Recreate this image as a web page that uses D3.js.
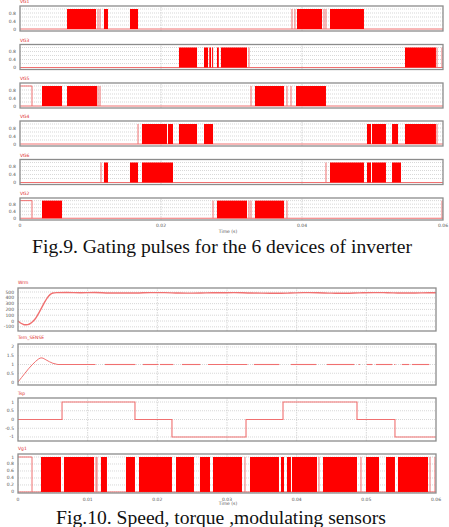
<!DOCTYPE html>
<html>
<head>
<meta charset="utf-8">
<script src="https://cdn.jsdelivr.net/npm/d3@7"></script>
<style>
  body { margin: 0; background: #fff; }
  svg { display: block; }
  .tick-label { font-family: "DejaVu Sans", sans-serif; font-size: 4.5px; fill: #555; }
  .panel-label { font-family: "DejaVu Sans", sans-serif; font-size: 4.5px; fill: #e03030; }
  .caption { font-family: "Liberation Serif", "Times New Roman", serif; font-size: 19.6px; fill: #111; }
</style>
</head>
<body>
<div id="chart"></div>
<script>
// ---------- data (time in ms) ----------
// Fig.9 gating pulses
const fig9Labels = ['VG1', 'VG3', 'VG5', 'VG4', 'VG6', 'VG2'];
const fig9XTicks = [0, 20, 40, 60];
const fig9XTickLabels = ['0', '0.02', '0.04', '0.06'];
const fig9YTicks = [0, 0.4, 0.8];
const fig9Grid = [0.2, 0.4, 0.6, 0.8, 1.0];

// dense switching blocks
const fig9Blocks = [
  [[6.67, 10.78], [11.91, 12.48], [15.60, 16.74], [39.29, 42.84], [43.97, 48.79]],
  [[22.55, 25.11], [26.10, 26.67], [26.85, 27.10], [27.25, 27.38], [27.94, 28.20], [28.50, 32.20], [54.61, 59.00]],
  [[3.12, 5.96], [6.67, 10.92], [33.33, 37.45], [39.15, 43.40]],
  [[17.30, 20.85], [20.99, 21.70], [22.55, 25.11], [26.10, 27.38], [49.22, 49.79], [49.93, 51.91], [52.77, 53.62], [54.61, 59.00]],
  [[11.91, 12.48], [15.60, 16.74], [17.30, 21.70], [43.97, 48.79], [49.22, 49.79], [49.93, 51.91], [52.77, 54.04]],
  [[3.12, 5.96], [27.94, 32.20], [33.33, 37.45]]
];
// single edges
const fig9Edges = [
  [11.06, 11.35, 38.58, 39.00, 43.12, 43.40],
  [32.48, 59.15, 59.86],
  [1.70, 11.06, 11.35, 32.77, 37.87, 38.44],
  [16.74, 59.15],
  [11.49, 43.40],
  [1.70, 27.38, 32.48, 32.77, 37.87, 59.86]
];
// steady high level (drawn as a line only)
const fig9High = [[], [], [[0, 1.70]], [], [], [[0, 1.70]]];

// Fig.10
const fig10Labels = ['Wrm', 'Tem_SENSE', 'Tsp', 'Vg1'];
const fig10XTicks = [0, 10, 20, 30, 40, 50, 60];
const fig10XTickLabels = ['0', '0.01', '0.02', '0.03', '0.04', '0.05', '0.06'];

const speedTime = [0, 0.3, 0.7, 1.0, 1.4, 1.8, 2.2, 2.6, 3.0, 3.4, 3.8, 4.2, 4.6, 5.0, 5.5,
  7, 9, 11, 13, 15, 17, 19, 21, 23, 25, 27, 29, 31, 33, 35, 37, 39, 41, 43, 45, 47, 49, 51, 53, 55, 57, 59, 60];
const speedValue = [0, -30, -55, -65, -62, -40, 0, 60, 140, 230, 320, 400, 455, 482, 490,
  492, 488, 491, 484, 482, 483, 490, 489, 482, 480, 485, 487, 490, 484, 480, 478, 482, 489, 487, 480, 478, 485, 490, 488, 482, 483, 488, 487];
const speedTicks = [-100, 0, 100, 200, 300, 400, 500];

const torqueRiseTime = [0, 0.5, 1.0, 1.5, 2.0, 2.5, 3.0, 3.3, 3.6, 4.0, 4.5, 5.0, 5.5, 5.74];
const torqueRiseValue = [0, 0.25, 0.5, 0.75, 0.97, 1.17, 1.33, 1.38, 1.36, 1.27, 1.16, 1.07, 1.02, 1.0];
const torqueLevel = 1.0;
const torqueSegments = [[5.74, 11.05], [12.48, 16.79], [17.93, 20.09], [20.37, 22.24], [23.53, 26.11],
  [27.26, 32.86], [33.86, 37.45], [39.17, 42.75], [44.33, 48.21], [48.9, 49.0], [50.07, 50.79],
  [51.36, 53.66], [54.0, 54.1], [55.09, 56.10], [56.53, 58.97]];
const torqueTicks = [0, 0.5, 1, 1.5, 2];

const modTime = [0, 6.32, 16.79, 22.10, 32.73, 38.04, 48.66, 54.11, 60];
const modValue = [0, 1, 0, -1, 0, 1, 0, -1, -1];
const modTicks = [-1, -0.5, 0, 0.5, 1];

const vgBlocks = [[3.30, 6.17], [6.60, 10.91], [11.91, 12.77], [15.50, 16.79], [17.37, 22.10], [22.68, 25.26],
  [26.12, 27.56], [27.99, 32.15], [33.30, 37.46], [37.75, 38.18], [38.61, 39.18], [39.33, 42.92],
  [43.78, 48.66], [49.95, 51.82], [52.82, 54.11], [54.54, 58.85]];
const vgEdges = [2.01, 11.20, 11.34, 32.58, 43.20, 49.23, 59.14, 59.85];
const vgHigh = [[0, 2.01]];
const vgTicks = [0, 0.2, 0.4, 0.6, 0.8, 1];

// ---------- layout ----------
const W = 449;
const H = 527;
const svg = d3.select('#chart').append('svg').attr('width', W).attr('height', H);

const frameColor = '#8c8c8c';
const gridColor = '#bdbdbd';
const red = '#ff0000';
const lineRed = '#f07070';

function frame(g, x, y) {
  g.append('rect')
    .attr('x', x.range()[0]).attr('y', y.range()[1])
    .attr('width', x.range()[1] - x.range()[0])
    .attr('height', y.range()[0] - y.range()[1])
    .attr('fill', 'none').attr('stroke', frameColor).attr('stroke-width', 1.3);
}

function hGrid(g, x, y, values) {
  g.selectAll(null).data(values).enter().append('line')
    .attr('x1', x.range()[0]).attr('x2', x.range()[1])
    .attr('y1', (d) => y(d)).attr('y2', (d) => y(d))
    .attr('stroke', gridColor).attr('stroke-width', 0.6).attr('stroke-dasharray', '1,1');
}

function vGrid(g, x, y, values) {
  g.selectAll(null).data(values).enter().append('line')
    .attr('x1', (d) => x(d)).attr('x2', (d) => x(d))
    .attr('y1', y.range()[0]).attr('y2', y.range()[1])
    .attr('stroke', gridColor).attr('stroke-width', 0.6).attr('stroke-dasharray', '1.5,1');
}

function yLabels(g, x, y, values, fmt) {
  g.selectAll(null).data(values).enter().append('text')
    .attr('class', 'tick-label')
    .attr('x', x.range()[0] - 4).attr('y', (d) => y(d) + 1.5)
    .attr('text-anchor', 'end')
    .text(fmt);
}

function pulses(g, x, y, blocks, edges, high) {
  // low level
  g.append('line')
    .attr('x1', x.range()[0]).attr('x2', x.range()[1])
    .attr('y1', y(0)).attr('y2', y(0))
    .attr('stroke', lineRed).attr('stroke-width', 1);
  high.forEach(([a, b]) => {
    g.append('line').attr('x1', x(a)).attr('x2', x(b)).attr('y1', y(1)).attr('y2', y(1))
      .attr('stroke', lineRed).attr('stroke-width', 1);
  });
  g.selectAll(null).data(edges).enter().append('line')
    .attr('x1', (d) => x(d)).attr('x2', (d) => x(d))
    .attr('y1', y(0)).attr('y2', y(1))
    .attr('stroke', lineRed).attr('stroke-width', 1);
  g.selectAll(null).data(blocks).enter().append('rect')
    .attr('x', (d) => x(d[0])).attr('y', y(1))
    .attr('width', (d) => Math.max(1, x(d[1]) - x(d[0])))
    .attr('height', y(0) - y(1))
    .attr('fill', red);
}

// ---------- Fig.9 ----------
const f9Tops = [6, 44.5, 83, 121, 159.5, 198];
const f9Heights = [25, 25, 25, 25, 25, 22];
const x9 = d3.scaleLinear().domain([0, 60]).range([20, 443]);

fig9Labels.forEach((label, i) => {
  const g = svg.append('g');
  const y = d3.scaleLinear().domain([-0.1, 1.15]).range([f9Tops[i] + f9Heights[i], f9Tops[i]]);
  hGrid(g, x9, y, fig9Grid);
  vGrid(g, x9, y, [20, 40]);
  pulses(g, x9, y, fig9Blocks[i], fig9Edges[i], fig9High[i]);
  frame(g, x9, y);
  yLabels(g, x9, y, fig9YTicks, (d) => d3.format('~g')(d));
  g.append('text').attr('class', 'panel-label')
    .attr('x', 20).attr('y', f9Tops[i] - 3).text(label);
});

svg.append('g').selectAll('text').data(fig9XTicks).enter().append('text')
  .attr('class', 'tick-label')
  .attr('x', (d) => x9(d)).attr('y', 227)
  .attr('text-anchor', 'middle')
  .text((d, i) => fig9XTickLabels[i]);
svg.append('text').attr('class', 'tick-label').attr('x', 228).attr('y', 233)
  .attr('text-anchor', 'middle').text('Time (s)');

svg.append('text').attr('class', 'caption').attr('x', 222).attr('y', 253)
  .attr('text-anchor', 'middle').text('Fig.9. Gating pulses for the 6 devices of inverter');

// ---------- Fig.10 ----------
const x10 = d3.scaleLinear().domain([0, 60]).range([18, 436]);
const f10Gridx = [10, 20, 30, 40, 50];

// speed
{
  const g = svg.append('g');
  const y = d3.scaleLinear().domain([-172, 569]).range([331, 288]);
  hGrid(g, x10, y, speedTicks);
  vGrid(g, x10, y, f10Gridx);
  const line = d3.line().x((d) => x10(d[0])).y((d) => y(d[1])).curve(d3.curveMonotoneX);
  g.append('path').datum(speedTime.map((t, i) => [t, speedValue[i]]))
    .attr('d', line).attr('fill', 'none').attr('stroke', lineRed).attr('stroke-width', 1.4);
  frame(g, x10, y);
  yLabels(g, x10, y, speedTicks, (d) => d);
  g.append('text').attr('class', 'panel-label').attr('x', 18).attr('y', 284).text(fig10Labels[0]);
}

// torque
{
  const g = svg.append('g');
  const y = d3.scaleLinear().domain([-0.17, 2.17]).range([385, 344]);
  hGrid(g, x10, y, torqueTicks);
  vGrid(g, x10, y, f10Gridx);
  const line = d3.line().x((d) => x10(d[0])).y((d) => y(d[1]));
  g.append('path').datum(torqueRiseTime.map((t, i) => [t, torqueRiseValue[i]]))
    .attr('d', line).attr('fill', 'none').attr('stroke', lineRed).attr('stroke-width', 1);
  g.selectAll(null).data(torqueSegments).enter().append('line')
    .attr('x1', (d) => x10(d[0])).attr('x2', (d) => x10(d[1]) + 0.5)
    .attr('y1', y(torqueLevel)).attr('y2', y(torqueLevel))
    .attr('stroke', lineRed).attr('stroke-width', 1.1);
  frame(g, x10, y);
  yLabels(g, x10, y, torqueTicks, (d) => d);
  g.append('text').attr('class', 'panel-label').attr('x', 18).attr('y', 339).text(fig10Labels[1]);
}

// modulating signal
{
  const g = svg.append('g');
  const y = d3.scaleLinear().domain([-1.23, 1.23]).range([441, 398]);
  hGrid(g, x10, y, modTicks);
  vGrid(g, x10, y, f10Gridx);
  const line = d3.line().x((d) => x10(d[0])).y((d) => y(d[1])).curve(d3.curveStepAfter);
  g.append('path').datum(modTime.map((t, i) => [t, modValue[i]]))
    .attr('d', line).attr('fill', 'none').attr('stroke', lineRed).attr('stroke-width', 1.1);
  frame(g, x10, y);
  yLabels(g, x10, y, modTicks, (d) => d);
  g.append('text').attr('class', 'panel-label').attr('x', 18).attr('y', 395).text(fig10Labels[2]);
}

// gate pulse
{
  const g = svg.append('g');
  const y = d3.scaleLinear().domain([-0.03, 1.086]).range([493, 454]);
  hGrid(g, x10, y, vgTicks);
  vGrid(g, x10, y, f10Gridx);
  pulses(g, x10, y, vgBlocks, vgEdges, vgHigh);
  frame(g, x10, y);
  yLabels(g, x10, y, vgTicks, (d) => d);
  g.append('text').attr('class', 'panel-label').attr('x', 18).attr('y', 450).text(fig10Labels[3]);
}

svg.append('g').selectAll('text').data(fig10XTicks).enter().append('text')
  .attr('class', 'tick-label')
  .attr('x', (d) => x10(d)).attr('y', 500.5)
  .attr('text-anchor', 'middle')
  .text((d, i) => fig10XTickLabels[i]);
svg.append('text').attr('class', 'tick-label').attr('x', 228).attr('y', 505)
  .attr('text-anchor', 'middle').text('Time (s)');

svg.append('text').attr('class', 'caption').attr('x', 221).attr('y', 524)
  .attr('text-anchor', 'middle').text('Fig.10. Speed, torque ,modulating sensors');
</script>
</body>
</html>
